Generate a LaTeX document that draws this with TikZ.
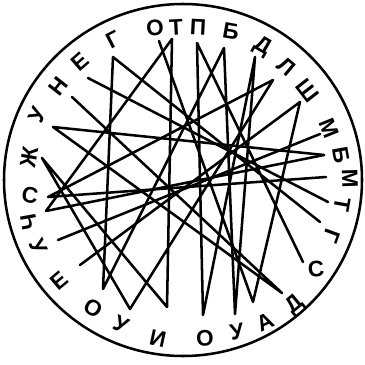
\documentclass[tikz,border=0pt]{standalone}
\usepackage{fontspec}
\setmainfont{Liberation Sans}
\begin{document}
\begin{tikzpicture}[x=0.05cm,y=-0.05cm,
  ln/.style={line width=3.6pt,line cap=round,line join=round},
  lt/.style={font=\fontsize{32}{32}\selectfont\bfseries,inner sep=0pt}]
\useasboundingbox (0,0) rectangle (365,365);
\draw[line width=3.6pt] (183,180) ellipse [x radius=179, y radius=176];
% letters
\node[lt,rotate=27] at (113,40) {Г};
\node[lt,rotate=6] at (155,28) {О};
\node[lt,rotate=3] at (176,27) {Т};
\node[lt,rotate=-3] at (198,27) {П};
\node[lt,rotate=-10] at (231,31) {Б};
\node[lt,rotate=-30] at (262,47) {Д};
\node[lt,rotate=-40] at (286,67) {Л};
\node[lt,rotate=-52] at (308,91) {Ш};
\node[lt,rotate=-68] at (329,128) {М};
\node[lt,rotate=-80] at (341,155) {Б};
\node[lt,rotate=-88] at (350,179) {М};
\node[lt,rotate=-100] at (342,205) {Т};
\node[lt,rotate=-110] at (332,236) {Г};
\node[lt,rotate=5] at (316,269) {С};
\node[lt,rotate=40] at (295,305) {Д};
\node[lt,rotate=25] at (265,322) {А};
\node[lt,rotate=10] at (237,332) {У};
\node[lt,rotate=3] at (205,338) {О};
\node[lt,rotate=-12] at (158,339) {И};
\node[lt,rotate=-25] at (121,325) {У};
\node[lt,rotate=-30] at (93,308) {О};
\node[lt,rotate=40] at (59,281) {Е};
\node[lt,rotate=-65] at (38,247) {У};
\node[lt,rotate=100] at (29,222) {Ч};
\node[lt,rotate=-10] at (30,195) {С};
\node[lt,rotate=80] at (29,157) {Ж};
\node[lt,rotate=65] at (38,115) {У};
\node[lt,rotate=52] at (58,86) {Н};
\node[lt,rotate=41] at (80,62) {Е};
% endpoints
\coordinate (G1) at (113,57);
\coordinate (O1) at (159,41);
\coordinate (T1) at (172,39);
\coordinate (P1) at (197,43);
\coordinate (B1) at (224,48);
\coordinate (D1) at (255,57);
\coordinate (L1) at (273,80);
\coordinate (Sh) at (300,102);
\coordinate (M1) at (320,134);
\coordinate (B2) at (324,155);
\coordinate (M2) at (326,177);
\coordinate (T2) at (328,202);
\coordinate (G2) at (320,222);
\coordinate (S1) at (303,262);
\coordinate (D2) at (282,293);
\coordinate (A) at (253,302);
\coordinate (U1) at (235,314);
\coordinate (O2) at (203,315);
\coordinate (I) at (167,307);
\coordinate (U2) at (130,309);
\coordinate (O3) at (103,289);
\coordinate (E1) at (80,265);
\coordinate (U3) at (58,240);
\coordinate (Ch) at (46,211);
\coordinate (S2) at (48,197);
\coordinate (Zh) at (42,158);
\coordinate (U4) at (53,127);
\coordinate (N) at (72,97);
\coordinate (E2) at (88,78);
\draw[ln] (G2) -- (G1) -- (O3) -- (B1) -- (U1) -- (D1) -- (O2) -- (P1) -- (S1);
\draw[ln] (L1) -- (U2) -- (Zh) -- (I) -- (T1) -- (Ch);
\draw[ln] (O1) -- (A) -- (Sh) -- (E1);
\draw[ln] (M2) -- (S2) -- (L1);
\draw[ln] (B2) -- (U4) -- (D2) -- (N);
\draw[ln] (U3) -- (M1);
\draw[ln] (E2) -- (T2);
\draw[ln] (Ch) -- (B2);
\end{tikzpicture}
\end{document}
